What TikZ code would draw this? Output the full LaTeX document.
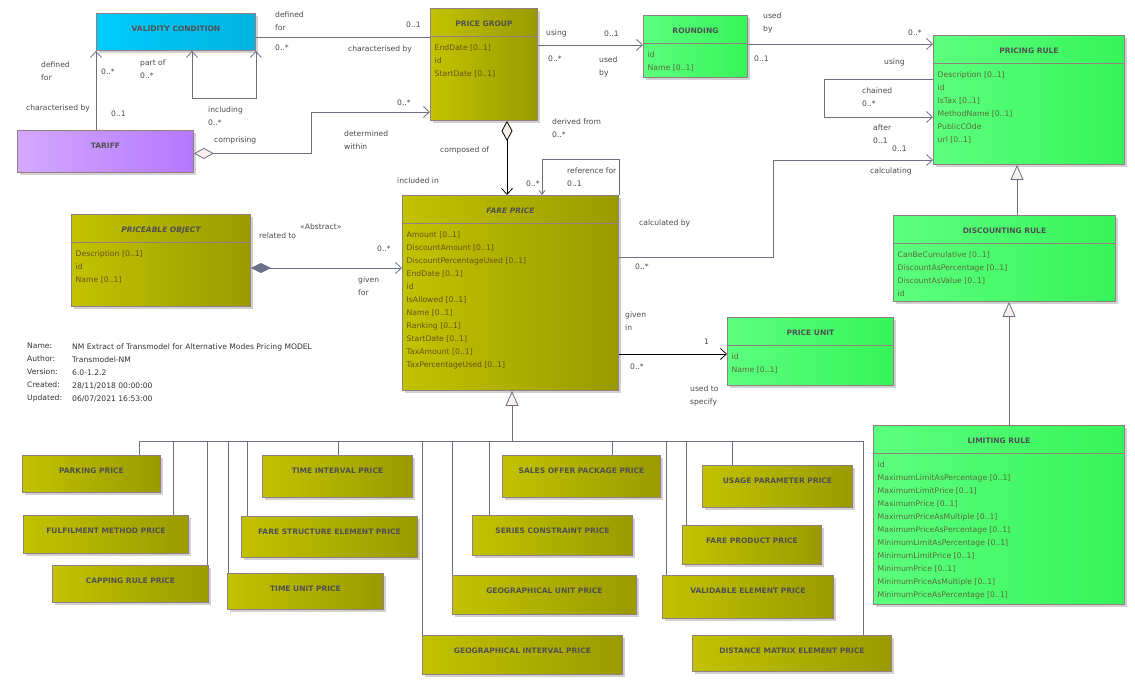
\documentclass[tikz,border=0pt]{standalone}
\usepackage{fontspec}
\setmainfont{DejaVu Sans}
\usetikzlibrary{arrows.meta,shadows}

\definecolor{olivel}{HTML}{C2C200}
\definecolor{oliver}{HTML}{9A9A00}
\definecolor{graenl}{HTML}{5CFF7E}
\definecolor{graenr}{HTML}{36F458}
\definecolor{blarl}{HTML}{00CCFF}
\definecolor{blarr}{HTML}{00B2DF}
\definecolor{fjolal}{HTML}{D4A8FF}
\definecolor{fjolar}{HTML}{B478FF}
\definecolor{ramma}{HTML}{927F7F}
\definecolor{linulitur}{HTML}{6B7088}
\definecolor{textalitur}{HTML}{4A4A4A}
\definecolor{titillitur}{HTML}{505050}
\definecolor{olivetexti}{HTML}{66541A}
\definecolor{graentexti}{HTML}{5A6A3C}
\definecolor{ljos}{HTML}{FBF0EE}

\tikzset{
  kassi/.style={draw=ramma, line width=0.9pt, anchor=north west, inner sep=0pt,
    drop shadow={shadow xshift=3pt, shadow yshift=-3pt, fill=black!18, opacity=1}},
  olive/.style={kassi, left color=olivel, right color=oliver},
  graen/.style={kassi, left color=graenl, right color=graenr},
  blar/.style={kassi, left color=blarl, right color=blarr},
  fjola/.style={kassi, left color=fjolal, right color=fjolar},
  titill/.style={font=\bfseries\fontsize{7.5}{9}\selectfont, text=titillitur,
    inner sep=0pt, text height=5.5pt, text depth=0pt},
  eig/.style={font=\fontsize{7.7}{13}\selectfont, align=left, inner sep=0pt, anchor=north west},
  merki/.style={font=\fontsize{7.6}{13}\selectfont, text=textalitur, align=left, inner sep=0pt, anchor=west},
  tengi/.style={draw=linulitur, line width=0.8pt},
  svart/.style={draw=black, line width=0.8pt}
}

% kassi: nafn, stíll, x, y, breidd, hæð, titill
\newcommand{\klasi}[7]{%
  \node[#2, minimum width=#5pt, minimum height=#6pt] (#1) at (#3,#4) {};
  \node[titill] (#1-t) at ([yshift=-16pt]#1.north) {#7};}
% hólf með eiginleikum
\newcommand{\holf}[3]{%
  \draw[draw=ramma, line width=0.9pt] ([yshift=-28pt]#1.north west) -- ([yshift=-28pt]#1.north east);
  \node[eig, text=#2] (#1-e) at ([xshift=4.5pt,yshift=-36pt]#1.north west) {#3};}

\begin{document}
\begin{tikzpicture}[x=1pt, y=-1pt, >={Straight Barb[length=6pt,width=11pt]}]
  \useasboundingbox (0,0) rectangle (1135,685);
  \fill[white] (0,0) rectangle (1135,685);

  % efri kassar
  \klasi{vc}{blar}{96}{13}{159}{37}{VALIDITY CONDITION}
  \klasi{tf}{fjola}{17}{130}{176}{42}{TARIFF}
  \klasi{pg}{olive}{430}{8}{107}{112}{PRICE GROUP}
  \holf{pg}{olivetexti}{EndDate [0..1]\\id\\StartDate [0..1]}
  \klasi{ro}{graen}{643}{15}{104}{62}{ROUNDING}
  \holf{ro}{graentexti}{id\\Name [0..1]}
  \klasi{pr}{graen}{933}{35}{191}{129}{PRICING RULE}
  \holf{pr}{graentexti}{Description [0..1]\\id\\IsTax [0..1]\\MethodName [0..1]\\PublicCOde\\url [0..1]}
  \klasi{dr}{graen}{893}{215}{222}{86}{DISCOUNTING RULE}
  \holf{dr}{graentexti}{CanBeCumulative [0..1]\\DiscountAsPercentage [0..1]\\DiscountAsValue [0..1]\\id}
  \klasi{lr}{graen}{873}{425}{251}{179}{LIMITING RULE}
  \holf{lr}{graentexti}{id\\MaximumLimitAsPercentage [0..1]\\MaximumLimitPrice [0..1]\\MaximumPrice [0..1]\\MaximumPriceAsMultiple [0..1]\\MaximumPriceAsPercentage [0..1]\\MinimumLimitAsPercentage [0..1]\\MinimumLimitPrice [0..1]\\MinimumPrice [0..1]\\MinimumPriceAsMultiple [0..1]\\MinimumPriceAsPercentage [0..1]}
  \klasi{pu}{graen}{727}{317}{166}{68}{PRICE UNIT}
  \holf{pu}{graentexti}{id\\Name [0..1]}
  \klasi{fp}{olive}{402}{195}{216}{195}{\itshape FARE PRICE}
  \holf{fp}{olivetexti}{Amount [0..1]\\DiscountAmount [0..1]\\DiscountPercentageUsed [0..1]\\EndDate [0..1]\\id\\IsAllowed [0..1]\\Name [0..1]\\Ranking [0..1]\\StartDate [0..1]\\TaxAmount [0..1]\\TaxPercentageUsed [0..1]}
  \klasi{po}{olive}{71}{214}{179}{92}{\itshape PRICEABLE OBJECT}
  \holf{po}{olivetexti}{Description [0..1]\\id\\Name [0..1]}

  % undirflokkar
  \klasi{pp}{olive}{22}{455}{138}{37}{PARKING PRICE}
  \klasi{fm}{olive}{23}{515}{165}{38}{FULFILMENT METHOD PRICE}
  \klasi{cr}{olive}{52}{565}{156}{37}{CAPPING RULE PRICE}
  \klasi{ti}{olive}{262}{455}{150}{42}{TIME INTERVAL PRICE}
  \klasi{fs}{olive}{241}{516}{176}{41}{FARE STRUCTURE ELEMENT PRICE}
  \klasi{tu}{olive}{227}{573}{156}{36}{TIME UNIT PRICE}
  \klasi{gi}{olive}{422}{635}{200}{39}{GEOGRAPHICAL INTERVAL PRICE}
  \klasi{so}{olive}{502}{455}{158}{42}{SALES OFFER PACKAGE PRICE}
  \klasi{sc}{olive}{472}{515}{160}{40}{SERIES CONSTRAINT PRICE}
  \klasi{gu}{olive}{452}{575}{184}{39}{GEOGRAPHICAL UNIT PRICE}
  \klasi{up}{olive}{702}{465}{150}{42}{USAGE PARAMETER PRICE}
  \klasi{fpp}{olive}{682}{525}{139}{39}{FARE PRODUCT PRICE}
  \klasi{ve}{olive}{662}{575}{171}{43}{VALIDABLE ELEMENT PRICE}
  \klasi{dm}{olive}{692}{635}{199}{36}{DISTANCE MATRIX ELEMENT PRICE}

  % upplýsingar
  \node[merki, text=black!80] (lykill) at (27,373) {Name:\\Author:\\Version:\\Created:\\Updated:};
  \node[merki, text=black!80] (gildi) at (72,373) {NM Extract of Transmodel for Alternative Modes Pricing MODEL\\Transmodel-NM\\6.0-1.2.2\\28/11/2018 00:00:00\\06/07/2021 16:53:00};

  % validity condition - price group
  \draw[tengi] ([yshift=-24pt]vc.north east) -- ([yshift=-29pt]pg.north west);
  \node[merki] (m1) at (275,21.5) {defined\\for};
  \node[merki] (m2) at (275,48) {0..*};
  \node[merki] (m3) at (406,25) {0..1};
  \node[merki] (m4) at (348,49) {characterised by};
  % tariff - validity condition
  \draw[tengi,->] (vc.south west |- tf.north) -- (vc.south west);
  \node[merki] (m5) at (41,71.5) {defined\\for};
  \node[merki] (m6) at (101,72) {0..*};
  \node[merki] (m7) at (26,108) {characterised by};
  \node[merki] (m8) at (111,114) {0..1};
  % validity condition sjálf
  \draw[tengi,<->] ([xshift=96pt]vc.south west) -- ++(0,47) -| (vc.south east);
  \node[merki] (m9) at (140,69.5) {part of\\0..*};
  \node[merki] (m10) at (208,116.5) {including\\0..*};
  % tariff - price group
  \coordinate (k1) at (311,112);
  \draw[tengi,{Diamond[length=20pt,width=11pt,fill=ljos]}->] ([yshift=-2pt]tf.east) -| (k1) -- (k1 -| pg.west);
  \node[merki] (m11) at (214,140) {comprising};
  \node[merki] (m12) at (397,103) {0..*};
  \node[merki] (m13) at (344,140.5) {determined\\within};
  % price group - rounding
  \draw[tengi,->] ([yshift=-37pt]pg.north east) -- ([yshift=-30pt]ro.north west);
  \node[merki] (m14) at (546,33) {using};
  \node[merki] (m15) at (604,34) {0..1};
  \node[merki] (m16) at (548,59) {0..*};
  \node[merki] (m17) at (599,66.5) {used\\by};
  % rounding - pricing rule
  \draw[tengi,->] ([yshift=-29pt]ro.north east) -- ([yshift=-9pt]pr.north west);
  \node[merki] (m18) at (763,22.5) {used\\by};
  \node[merki] (m19) at (754,59) {0..1};
  \node[merki] (m20) at (908,33) {0..*};
  \node[merki] (m21) at (884,62) {using};
  % pricing rule sjálf
  \draw[tengi,->] ([yshift=-44pt]pr.north west) -- ++(-109,0) -- ++(0,38) -- ([yshift=-82pt]pr.north west);
  \node[merki] (m22) at (862,97.5) {chained\\0..*};
  \node[merki] (m23) at (873,134.5) {after\\0..1};
  % fare price - pricing rule
  \coordinate (k3) at (773,160);
  \draw[tengi,->] ([yshift=-62pt]fp.north east) -| (k3) -- (k3 -| pr.west);
  \node[merki] (m24) at (892,149) {0..1};
  \node[merki] (m25) at (870,171) {calculating};
  \node[merki] (m26) at (639,223) {calculated by};
  \node[merki] (m27) at (635,267) {0..*};
  % price group - fare price
  \draw[svart,{Diamond[length=20pt,width=11pt,fill=ljos]}->] ([xshift=77pt]pg.south west) -- ([xshift=105pt]fp.north west);
  \node[merki] (m28) at (440,150) {composed of};
  \node[merki] (m29) at (397,181) {included in};
  % fare price sjálf
  \coordinate (k4) at (542,159);
  \draw[tengi,-{Straight Barb[length=4pt,width=6pt]}] (fp.north east) |- (k4) -- (k4 |- fp.north);
  \node[merki] (m30) at (552,128.5) {derived from\\0..*};
  \node[merki] (m31) at (567,177.5) {reference for\\0..1};
  \node[merki] (m32) at (526,184) {0..*};
  % priceable object - fare price
  \draw[tengi,{Diamond[length=20pt,width=10pt]}->] ([yshift=-54pt]po.north east) -- ([yshift=-73pt]fp.north west);
  \node[merki] (m33) at (259,236) {related to};
  \node[merki] (m34) at (300,227) {«Abstract»};
  \node[merki] (m35) at (377,249) {0..*};
  \node[merki] (m36) at (358,286.5) {given\\for};
  % fare price - price unit
  \draw[svart,->] ([yshift=-159pt]fp.north east) -- ([yshift=-37pt]pu.north west);
  \node[merki] (m37) at (625,321.5) {given\\in};
  \node[merki] (m38) at (704,342) {1};
  \node[merki] (m39) at (630,367) {0..*};
  \node[merki] (m40) at (690,395.5) {used to\\specify};

  % erfðir
  \coordinate (g1) at (1017,215);
  \draw[tengi,-{Triangle[length=15pt,width=13pt,fill=ljos]}] (g1) -- (g1 |- pr.south);
  \coordinate (g2) at (1009,425);
  \draw[tengi,-{Triangle[length=15pt,width=13pt,fill=ljos]}] (g2) -- (g2 |- dr.south);
  \coordinate (bus) at (512,441);
  \draw[tengi,-{Triangle[length=15pt,width=13pt,fill=ljos]}] (bus) -- (bus |- fp.south);
  \coordinate (bv) at (139,441);
  \coordinate (bh) at (863,441);
  \draw[tengi] (bv) -- (bh);
  \foreach \n/\x in {pp/139,fm/173,cr/207,tu/228,fs/247,ti/338,gi/422,gu/452,sc/489,so/612,ve/666,fpp/686,up/732,dm/863}
    \draw[tengi] (\x,441) -- (\x,0 |- \n.north);
\end{tikzpicture}
\end{document}
